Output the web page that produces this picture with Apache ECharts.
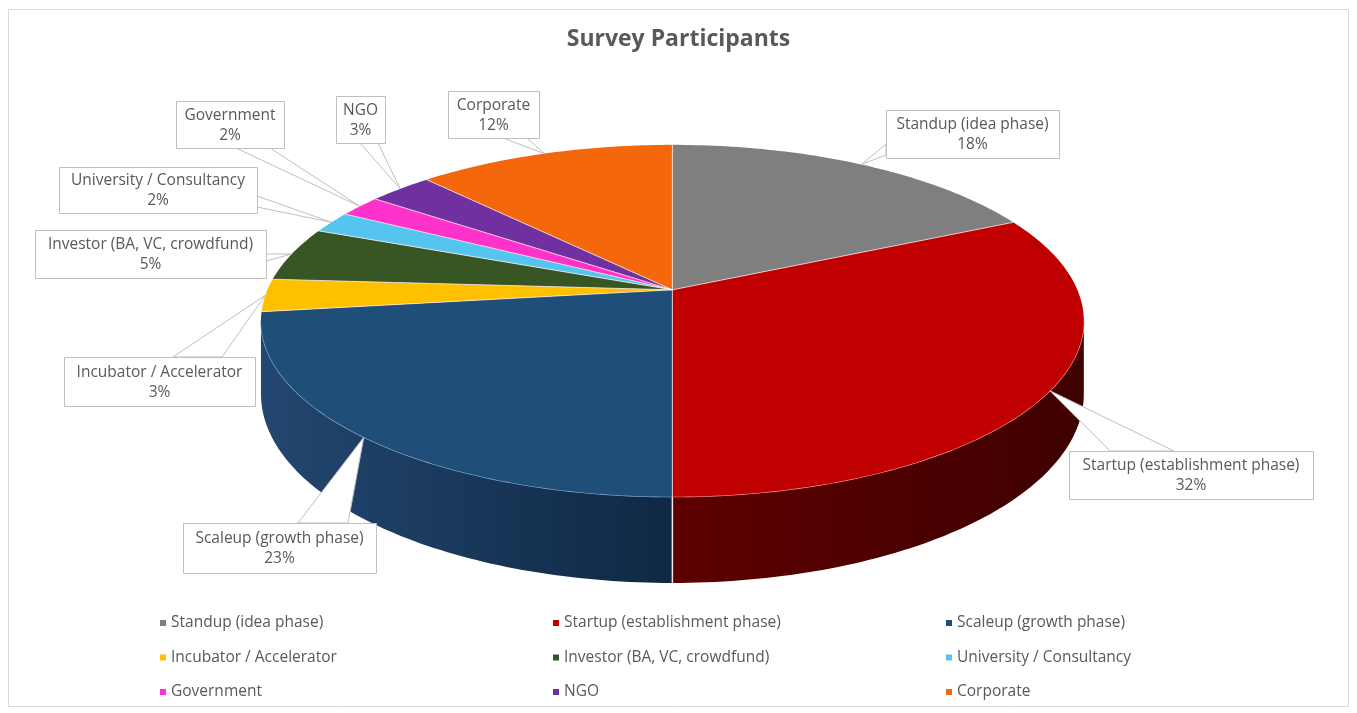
<!DOCTYPE html>
<html>
<head>
<meta charset="utf-8">
<script src="https://cdn.jsdelivr.net/npm/echarts@6/dist/echarts.min.js"></script>
<style>
  html, body { margin: 0; padding: 0; background: #ffffff; }
  #chart { width: 1357px; height: 713px; }
</style>
</head>
<body>
<div id="chart"></div>
<script>
// Survey participant groups and their shares (percent)
const categories = [
  'Standup (idea phase)',
  'Startup (establishment phase)',
  'Scaleup (growth phase)',
  'Incubator / Accelerator',
  'Investor (BA, VC, crowdfund)',
  'University / Consultancy',
  'Government',
  'NGO',
  'Corporate'
];
const shares = [18, 32, 23, 3, 5, 2, 2, 3, 12];

// Slice colours: top face, the darker side wall (gradient start / end) and the front rim highlight
const topColors = ['#7f7f7f', '#c00000', '#1f4e79', '#ffc000', '#375623', '#55c5f0', '#ff33cc', '#7030a0', '#f4680b'];
const sideColors = [
  ['#5a5a5a', '#3c3c3c'],
  ['#5e0000', '#3f0000'],
  ['#234770', '#0f2844'],
  ['#b38600', '#806000'],
  ['#263c18', '#1a2a10'],
  ['#3b8aa8', '#2a6278'],
  ['#b32490', '#801a66'],
  ['#4e2270', '#381850'],
  ['#ab4a08', '#7a3506']
];
const rimColors = ['#b0b0b0', '#ff9c9c', '#8fb2d6', '#ffe08a', '#7a9a66', '#b0e6fa', '#ff99e6', '#b08ad0', '#ffb27a'];

// Projection of the tilted disc (centre as a fraction of the canvas, radii and thickness in px)
const view = { cx: 0.4955, cy: 0.4065, rx: 405, ry: 170.5, persp: 0.176, depth: 71 };

// Callout boxes: [left, top, width, height] and the two points where the pointer meets the box
const callouts = [
  { box: [886, 110, 173, 48], base: [[886, 144], [886, 155]] },
  { box: [1069, 451, 244, 48], base: [[1110, 451], [1174, 451]] },
  { box: [183, 523, 193, 50], base: [[298, 523], [348, 523]] },
  { box: [64, 357, 191, 49], base: [[173, 357], [222, 357]] },
  { box: [35, 230, 231, 48], base: [[266, 254], [266, 261]] },
  { box: [59, 167, 198, 46], base: [[257, 196], [257, 207]] },
  { box: [176, 101, 108, 47], base: [[236, 148], [270, 148]] },
  { box: [336, 96, 49, 47], base: [[360, 143], [378, 143]] },
  { box: [448, 91, 91, 47], base: [[503, 138], [527, 138]] }
];

// Legend columns (left edge in px) and the categories listed in each, top to bottom
const legendColumns = [
  { left: 155, items: [0, 3, 6] },
  { left: 548, items: [1, 4, 7] },
  { left: 941, items: [2, 5, 8] }
];

const FONT = '"Open Sans", "Liberation Sans", sans-serif';
const TEXT = '#595959';
const TAU = Math.PI * 2;
const total = shares.reduce((a, b) => a + b, 0);
const starts = [];
(function () {
  let acc = 0;
  shares.forEach(v => { starts.push(acc / total * TAU); acc += v; });
})();

// Angles measured clockwise from the top of the disc
function makeProjector(api) {
  const cx = api.getWidth() * view.cx;
  const cy = api.getHeight() * view.cy;
  const fn = function (t, d) {
    const u = Math.sin(t), v = Math.cos(t), s = 1 / (1 + view.persp * v);
    return [cx + view.rx * u * s, cy - view.ry * v * s + d * view.depth * s];
  };
  fn.center = [cx, cy];
  return fn;
}

function arc(p, a, b, d) {
  const n = Math.max(2, Math.ceil(Math.abs(b - a) / (Math.PI / 180)));
  const pts = [];
  for (let k = 0; k <= n; k++) pts.push(p(a + (b - a) * k / n, d));
  return pts;
}

// Part of the rim whose side wall faces the viewer
const sideFrom = Math.acos(-view.persp);
const sideTo = TAU - sideFrom;

function sliceRenderer(i) {
  return function (params, api) {
    const p = makeProjector(api);
    const a0 = starts[i];
    const a1 = a0 + api.value(1) / total * TAU;
    const children = [];
    const s0 = Math.max(a0, sideFrom), s1 = Math.min(a1, sideTo);
    if (s1 > s0) {
      const topEdge = arc(p, s0, s1, 0);
      const bottomEdge = arc(p, s1, s0, 1);
      children.push({
        type: 'polygon',
        shape: { points: topEdge.concat(bottomEdge) },
        style: {
          fill: {
            type: 'linear', x: 0, y: 0, x2: 1, y2: 0,
            colorStops: [{ offset: 0, color: sideColors[i][0] }, { offset: 1, color: sideColors[i][1] }]
          }
        }
      });
      children.push({
        type: 'polyline',
        shape: { points: topEdge },
        style: { stroke: rimColors[i], lineWidth: 1.2, fill: null }
      });
      if (a0 >= sideFrom && a0 <= sideTo) {
        const t = p(a0, 0), b = p(a0, 1);
        children.push({
          type: 'line',
          shape: { x1: t[0], y1: t[1], x2: b[0], y2: b[1] },
          style: { stroke: '#f2e6ea', lineWidth: 1.5 }
        });
      }
    }
    children.push({
      type: 'polygon',
      shape: { points: [p.center].concat(arc(p, a0, a1, 0)) },
      style: { fill: topColors[i] }
    });
    return { type: 'group', children: children };
  };
}

function calloutRenderer(params, api) {
  const i = params.dataIndex;
  const p = makeProjector(api);
  const a0 = starts[i];
  const mid = a0 + api.value(1) / total * TAU / 2;
  const anchor = p(mid, 0);
  const edge = p(a0, 0);
  const c = callouts[i];
  const [bx, by, bw, bh] = c.box;
  const pct = Math.round(api.value(1) / total * 100) + '%';
  return {
    type: 'group',
    children: [
      {
        type: 'line',
        shape: { x1: p.center[0], y1: p.center[1], x2: edge[0], y2: edge[1] },
        style: { stroke: 'rgba(255,235,235,0.75)', lineWidth: 1 }
      },
      {
        type: 'polygon',
        shape: { points: [anchor, c.base[0], c.base[1]] },
        style: { fill: '#ffffff', stroke: '#bfbfbf', lineWidth: 1 }
      },
      {
        type: 'rect',
        shape: { x: bx + 0.5, y: by + 0.5, width: bw, height: bh },
        style: { fill: '#ffffff', stroke: '#bfbfbf', lineWidth: 1 }
      },
      {
        type: 'text',
        x: bx + bw / 2,
        y: by + bh / 2 + 1,
        style: {
          text: categories[i] + '\n' + pct,
          align: 'center',
          verticalAlign: 'middle',
          fontSize: 15.5,
          lineHeight: 20,
          fontFamily: FONT,
          fill: TEXT
        }
      }
    ]
  };
}

const series = categories.map((name, i) => ({
  type: 'custom',
  name: name,
  coordinateSystem: 'none',
  silent: true,
  z: 2,
  itemStyle: { color: topColors[i] },
  data: [[i, shares[i]]],
  renderItem: sliceRenderer(i)
}));

series.push({
  type: 'custom',
  name: 'callouts',
  coordinateSystem: 'none',
  silent: true,
  z: 5,
  data: shares.map((v, i) => [i, v]),
  renderItem: calloutRenderer
});

const legends = legendColumns.map(col => ({
  data: col.items.map(k => categories[k]),
  left: col.left,
  top: 610,
  orient: 'vertical',
  icon: 'rect',
  itemWidth: 6,
  itemHeight: 6,
  itemGap: 18.5,
  selectedMode: false,
  textStyle: { fontFamily: FONT, fontSize: 15.5, color: TEXT }
}));

const chart = echarts.init(document.getElementById('chart'), null, { renderer: 'canvas' });
chart.setOption({
  backgroundColor: '#ffffff',
  animation: false,
  color: topColors,
  title: {
    text: 'Survey Participants',
    left: 'center',
    top: 23,
    textStyle: { fontFamily: FONT, fontSize: 23, fontWeight: 'bold', color: TEXT }
  },
  legend: legends,
  graphic: [{
    type: 'rect',
    silent: true,
    shape: { x: 8.5, y: 9.5, width: 1340, height: 697 },
    style: { fill: null, stroke: '#d9d9d9', lineWidth: 1 }
  }],
  series: series
});
</script>
</body>
</html>
